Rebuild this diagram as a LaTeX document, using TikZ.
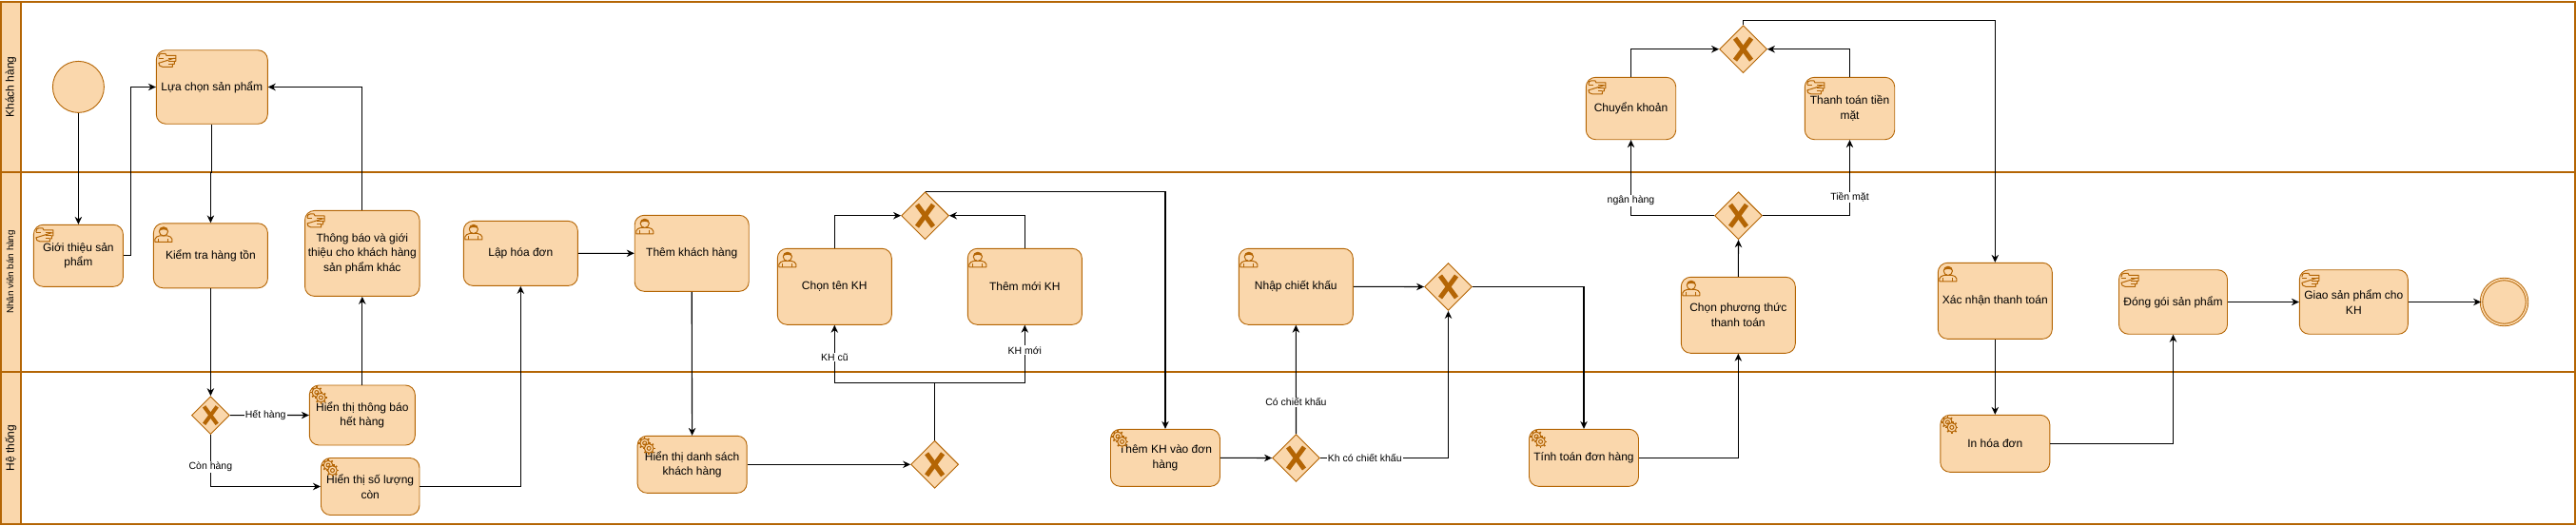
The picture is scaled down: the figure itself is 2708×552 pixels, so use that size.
\documentclass[tikz,border=0pt]{standalone}
\usepackage{fontspec}
\setmainfont{Liberation Sans}
\usetikzlibrary{arrows.meta,shapes.geometric}
\definecolor{bpmnfill}{HTML}{FAD7AC}
\definecolor{bpmnline}{HTML}{B46504}
\tikzset{
  lanebox/.style={draw=bpmnline,line width=1.6pt,minimum width=2706,inner sep=0pt},
  lanehead/.style={draw=bpmnline,fill=bpmnfill,line width=1.6pt,rotate=90,inner sep=0pt,minimum height=21},
  task/.style={draw=bpmnline,fill=bpmnfill,line width=.9pt,rounded corners=10pt,align=center,inner sep=0pt,
    font=\fontsize{12}{15.5}\selectfont},
  gateway/.style={diamond,draw=bpmnline,fill=bpmnfill,line width=.9pt,inner sep=0pt,
    minimum width=#1,minimum height=#1,
    path picture={
      \draw[bpmnline,line width=.1*#1] ([shift={(-.17*#1,-.23*#1)}]path picture bounding box.center)
        -- ([shift={(.17*#1,.23*#1)}]path picture bounding box.center);
      \draw[bpmnline,line width=.1*#1] ([shift={(-.17*#1,.23*#1)}]path picture bounding box.center)
        -- ([shift={(.17*#1,-.23*#1)}]path picture bounding box.center);
    }},
  gateway/.default=50,
  startev/.style={circle,draw=bpmnline,fill=bpmnfill,line width=.9pt,inner sep=0pt,minimum size=#1},
  endev/.style={circle,double=bpmnfill,draw=bpmnline,fill=bpmnfill,line width=.9pt,double distance=1.6pt,inner sep=0pt,minimum size=#1},
  flow/.style={draw=black,line width=1.1pt,-{Stealth[length=8pt,width=7.5pt]}},
  flowplain/.style={draw=black,line width=1.1pt},
  flowlabel/.style={fill=white,inner sep=1pt,font=\fontsize{10.5}{12}\selectfont},
  iconline/.style={draw=bpmnline,line width=1pt,line join=round},
  pics/handicon/.style={code={
    \draw[iconline] (3,8) .. controls (3,5) and (4,4) .. (6,4) -- (10,4) -- (11,6) -- (21,6) -- (21,9) -- (19,9)
      (19,9) -- (21,9) -- (21,12) -- (19.5,12) -- (19.5,15) -- (17.5,15) -- (17.5,18) -- (7,18)
      .. controls (4,18) and (3,16) .. (3,14) -- cycle;
    \draw[iconline] (3,9) -- (8,9) (13,9) -- (19,9) (13,12) -- (19.5,12) (13,15) -- (17.5,15);
  }},
  pics/usericon/.style={code={
    \draw[iconline] (2,20) -- (2,17) .. controls (2,15) and (5,14) .. (7,13.5) -- (15,13.5)
      .. controls (17,14) and (20,15) .. (20,17) -- (20,20) -- cycle;
    \draw[iconline] (6,20) -- (6,16.5) (16,20) -- (16,16.5);
    \draw[iconline,fill=bpmnfill] (11,9) circle (4.6);
    \fill[bpmnline] (6.5,8.5) .. controls (6,3) and (16,3) .. (15.5,8.5) .. controls (13,6.5) and (9,6.5) .. (6.5,8.5) -- cycle;
  }},
  pics/gearicon/.style={code={
    \foreach \cx/\cy in {8/8,12.5/13.5}{
      \foreach \a in {0,45,...,315}
        \draw[bpmnline,line width=1.6pt] (\cx,\cy) ++(\a:4.6) -- ++(\a:2);
      \draw[iconline,fill=bpmnfill] (\cx,\cy) circle (4.8);
      \draw[iconline] (\cx,\cy) circle (2);
    }
  }},
}
\begin{document}
\begin{tikzpicture}[x=1pt,y=-1pt]
\useasboundingbox (0,0) rectangle (2708,552);
% lanes
\node[lanebox,minimum height=179] (lanekhach) at (1354,91.5) {};
\node[lanebox,minimum height=210] (lanenhanvien) at (1354,286) {};
\node[lanebox,minimum height=160] (lanehethong) at (1354,471) {};
\node[lanehead,minimum width=179,font=\fontsize{12}{15}\selectfont] (headkhach) at (11.5,91.5) {Khách hàng};
\node[lanehead,minimum width=210,font=\fontsize{9.8}{12}\selectfont] (headnhanvien) at (11.5,286) {Nhân viên bán hàng};
\node[lanehead,minimum width=160,font=\fontsize{12}{15}\selectfont] (headhethong) at (11.5,471) {Hệ thống};
% events
\node[startev=54] (batdau) at (82.4,91.4) {};
\node[endev=48] (ketthuc) at (2632.5,317.5) {};
% tasks
\node[task,minimum width=117,minimum height=77.5] (luachon) at (222.8,91.5) {Lựa chọn sản phẩm};
\node[task,minimum width=94,minimum height=65] (gioithieu) at (82.4,268.8) {Giới thiệu sản\\phẩm};
\node[task,minimum width=120,minimum height=68] (kiemtra) at (221.4,268.8) {Kiểm tra hàng tồn};
\node[task,minimum width=120.5,minimum height=90] (thongbao) at (380.8,266.4) {Thông báo và giới\\thiệu cho khách hàng\\sản phẩm khác};
\node[task,minimum width=120,minimum height=68] (lapdon) at (547.3,266.4) {Lập hóa đơn};
\node[task,minimum width=120,minimum height=80] (themkhach) at (727.2,266.3) {Thêm khách hàng};
\node[task,minimum width=120,minimum height=80] (chonten) at (877.3,301.3) {Chọn tên KH};
\node[task,minimum width=120,minimum height=80] (themmoi) at (1077.3,301.3) {Thêm mới KH};
\node[task,minimum width=120,minimum height=80] (nhapck) at (1362.3,301.3) {Nhập chiết khấu};
\node[task,minimum width=120,minimum height=80] (chonpt) at (1827.3,331.3) {Chọn phương thức\\thanh toán};
\node[task,minimum width=120,minimum height=80] (xacnhan) at (2097.3,316.3) {Xác nhận thanh toán};
\node[task,minimum width=114,minimum height=67.5] (donggoi) at (2284.5,317.5) {Đóng gói sản phẩm};
\node[task,minimum width=114,minimum height=67.5] (giaohang) at (2474.3,317.5) {Giao sản phẩm cho\\KH};
\node[task,minimum width=94.4,minimum height=65.4] (chuyenkhoan) at (1714.5,114) {Chuyển khoản};
\node[task,minimum width=94.4,minimum height=65.4] (tienmat) at (1944.5,114) {Thanh toán tiền\\mặt};
\node[task,minimum width=111,minimum height=63] (hienthongbao) at (380.8,436.5) {Hiển thị thông báo\\hết hàng};
\node[task,minimum width=103.5,minimum height=60] (hiensoluong) at (389.2,511.5) {Hiển thị số lượng\\còn};
\node[task,minimum width=115,minimum height=60] (hiendanhsach) at (727.6,488.3) {Hiển thị danh sách\\khách hàng};
\node[task,minimum width=115,minimum height=60] (themvaodon) at (1225,481.3) {Thêm KH vào đơn\\hàng};
\node[task,minimum width=115,minimum height=60] (tinhtoan) at (1665,481.3) {Tính toán đơn hàng};
\node[task,minimum width=115,minimum height=60] (inhoadon) at (2097.3,466.3) {In hóa đơn};
% icons
\pic at (luachon.north west) {handicon};
\pic at (gioithieu.north west) {handicon};
\pic at (thongbao.north west) {handicon};
\pic at (chuyenkhoan.north west) {handicon};
\pic at (tienmat.north west) {handicon};
\pic at (donggoi.north west) {handicon};
\pic at (giaohang.north west) {handicon};
\pic at (kiemtra.north west) {usericon};
\pic at (lapdon.north west) {usericon};
\pic at (themkhach.north west) {usericon};
\pic at (chonten.north west) {usericon};
\pic at (themmoi.north west) {usericon};
\pic at (nhapck.north west) {usericon};
\pic at (chonpt.north west) {usericon};
\pic at (xacnhan.north west) {usericon};
\pic at (hienthongbao.north west) {gearicon};
\pic at (hiensoluong.north west) {gearicon};
\pic at (hiendanhsach.north west) {gearicon};
\pic at (themvaodon.north west) {gearicon};
\pic at (tinhtoan.north west) {gearicon};
\pic at (inhoadon.north west) {gearicon};
% gateways
\node[gateway=40] (gwton) at (221.4,436.6) {};
\node[gateway] (gwkhach) at (972.5,226.7) {};
\node[gateway] (gwloai) at (982.6,488.3) {};
\node[gateway] (gwck) at (1362.5,481.5) {};
\node[gateway] (gwgop) at (1522.5,301.5) {};
\node[gateway] (gwpt) at (1827.5,226.7) {};
\node[gateway] (gwtt) at (1832.5,51.7) {};
\coordinate (tachkh) at (982.6,402.3);
% flows
\draw[flow] (batdau.south) -- (gioithieu.north);
\draw[flow] (gioithieu.east) -- ++(8,0) |- (luachon.west);
\draw[flow] (luachon.south) -- ++(0,51) -| (kiemtra.north);
\draw[flow] (kiemtra.south) -- (gwton.north);
\draw[flow] (gwton.east) -- node[flowlabel,pos=.45] (lblhet) {Hết hàng} (hienthongbao.west);
\draw[flow] (gwton.south) |- node[flowlabel,pos=.31] (lblcon) {Còn hàng} (hiensoluong.west);
\draw[flow] (hienthongbao.north) -- (thongbao.south);
\draw[flow] (thongbao.north) |- (luachon.east);
\draw[flow] (hiensoluong.east) -| (lapdon.south);
\draw[flow] (lapdon.east) -- (themkhach.west);
\draw[flow] (themkhach.south) -- (hiendanhsach.north);
\draw[flow] (hiendanhsach.east) -- (gwloai.west);
\draw[flowplain] (gwloai.north) -- (tachkh);
\draw[flow] (tachkh) -| node[flowlabel,pos=.72] (lblcu) {KH cũ} (chonten.south);
\draw[flow] (tachkh) -| node[flowlabel,pos=.78] (lblmoi) {KH mới} (themmoi.south);
\draw[flow] (chonten.north) |- (gwkhach.west);
\draw[flow] (themmoi.north) |- (gwkhach.east);
\draw[flow] (gwkhach.north) -| (themvaodon.north);
\draw[flow] (themvaodon.east) -- (gwck.west);
\draw[flow] (gwck.north) -- node[flowlabel,pos=.29] (lblco) {Có chiết khấu} (nhapck.south);
\draw[flow] (gwck.east) -| node[flowlabel,pos=.174] (lblkhong) {Kh có chiết khấu} (gwgop.south);
\draw[flow] (nhapck.east) -- (gwgop.west);
\draw[flow] (gwgop.east) -| (tinhtoan.north);
\draw[flow] (tinhtoan.east) -| (chonpt.south);
\draw[flow] (chonpt.north) -- (gwpt.south);
\draw[flow] (gwpt.west) -| node[flowlabel,pos=.6] (lblnh) {ngân hàng} (chuyenkhoan.south);
\draw[flow] (gwpt.east) -| node[flowlabel,pos=.62] (lbltm) {Tiền mặt} (tienmat.south);
\draw[flow] (chuyenkhoan.north) |- (gwtt.west);
\draw[flow] (tienmat.north) |- (gwtt.east);
\draw[flow] (gwtt.north) -- ++(0,-5) -| (xacnhan.north);
\draw[flow] (xacnhan.south) -- (inhoadon.north);
\draw[flow] (inhoadon.east) -| (donggoi.south);
\draw[flow] (donggoi.east) -- (giaohang.west);
\draw[flow] (giaohang.east) -- (ketthuc.west);
\end{tikzpicture}
\end{document}
